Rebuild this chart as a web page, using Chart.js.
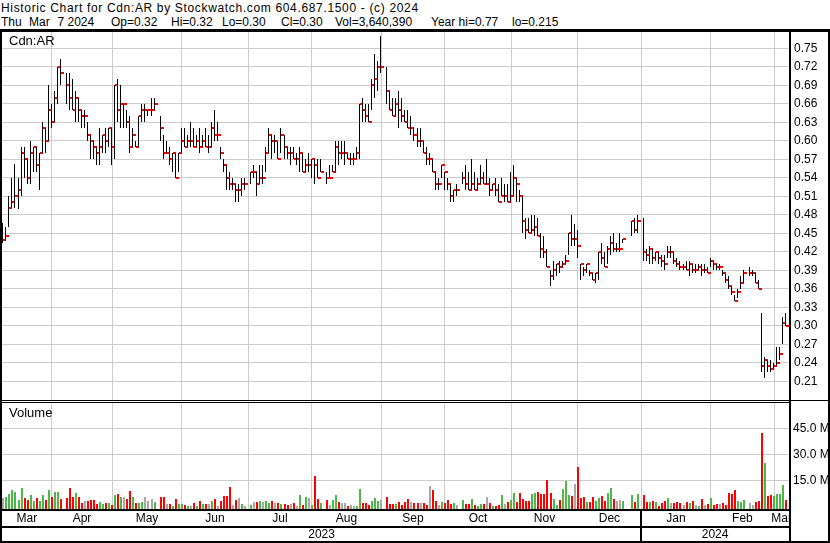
<!DOCTYPE html>
<html>
<head>
<meta charset="utf-8">
<script src="https://cdn.jsdelivr.net/npm/chart.js@4.4.1/dist/chart.umd.min.js"></script>
<style>
  html, body { margin: 0; padding: 0; background: #fff; }
  body { width: 830px; height: 543px; position: relative; overflow: hidden;
         font-family: "Liberation Sans", Arial, sans-serif; font-size: 12px; color: #000; }
  .t { position: absolute; white-space: pre; line-height: 14px; }
  .big { font-size: 13px; }
  .ln { position: absolute; background: #000; }
  canvas { position: absolute; }
</style>
</head>
<body>
<div class="t" style="left:1px;top:1px;letter-spacing:0.66px">Historic Chart for Cdn:AR by Stockwatch.com 604.687.1500 - (c) 2024</div>
<div class="t" style="left:1px;top:15px">Thu</div>
<div class="t" style="left:29px;top:15px">Mar</div>
<div class="t" style="left:57.5px;top:15px">7</div>
<div class="t" style="left:67.5px;top:15px">2024</div>
<div class="t" style="left:111px;top:15px">Op=0.32</div>
<div class="t" style="left:171px;top:15px">Hi=0.32</div>
<div class="t" style="left:222px;top:15px">Lo=0.30</div>
<div class="t" style="left:281px;top:15px">Cl=0.30</div>
<div class="t" style="left:335px;top:15px">Vol=3,640,390</div>
<div class="t" style="left:431px;top:15px">Year hi=0.77</div>
<div class="t" style="left:512px;top:15px">lo=0.215</div>

<canvas id="price" width="826" height="368" style="left:2px;top:32px"></canvas>
<canvas id="volume" width="826" height="138" style="left:2px;top:403px"></canvas>

<div class="t big" style="left:9px;top:34px">Cdn:AR</div>
<div class="t big" style="left:9px;top:406px">Volume</div>

<div style="position:absolute;left:791px;top:509px;width:37px;height:32px;background:#fff"></div>
<div class="ln" style="left:0;top:29px;width:830px;height:3px"></div>
<div class="ln" style="left:0;top:29px;width:2px;height:514px"></div>
<div class="ln" style="left:828px;top:29px;width:2px;height:514px"></div>
<div class="ln" style="left:0;top:541px;width:830px;height:2px"></div>
<div class="ln" style="left:789px;top:29px;width:2px;height:514px"></div>
<div class="ln" style="left:0;top:400px;width:830px;height:1px"></div>
<div class="ln" style="left:0;top:402px;width:791px;height:1px"></div>
<div class="ln" style="left:0;top:509px;width:791px;height:2px"></div>
<div class="ln" style="left:0;top:526px;width:791px;height:2px"></div>

<script>
// one slot per weekday, Mar 10 2023 .. Mar 7 2024 (null = market holiday)
const monthLabels = ['Mar', 'Apr', 'May', 'Jun', 'Jul', 'Aug', 'Sep', 'Oct', 'Nov', 'Dec', 'Jan', 'Feb', 'Mar'];
const monthSlots = [16, 20, 23, 22, 21, 23, 21, 22, 22, 21, 23, 21, 5];
const yearLabels = ['2023', '2024'];
const priceTicks = [0.21, 0.24, 0.27, 0.30, 0.33, 0.36, 0.39, 0.42, 0.45, 0.48, 0.51, 0.54, 0.57, 0.60, 0.63, 0.66, 0.69, 0.72, 0.75];
const volumeTicks = [15, 30, 45];

const highs = [
  .467, .460, .510, .540, .562, .540, .590, .590, .570, .600, .590, .590, .580, .630, .620, .690,
  .66, .68, .72, .732, null, .71, .71, .70, .68, .67, .65, .65, .63, .61, .60, .59, .62, .61, .62, .62,
  .62, .69, .70, .69, .66, .65, .64, .62, .60, .64, .66, .66, .65, .67, .67, null, .64, .61, .60, .59, .58, .58, .58,
  .62, .62, .61, .63, .62, .61, .62, .61, .62, .61, .63, .65, .63, .59, .57, .56, .55, .54, .53, .53, .54, .54,
  null, .55, .56, .55, .56, .56, .59, .62, .61, .61, .60, .62, .61, .59, .59, .59, .58, .59, .58, .57, .58,
  .57, .57, .57, .57, null, .55, .56, .56, .60, .60, .60, .60, .58, .58, .58, .59, .66, .67, .66, .66, .70, .74, .73,
  .77, null, .72, .68, .67, .67, .68, .67, .65, .65, .64, .62, .62, .62, .60, .59, .58, .57, .55, .54, .56,
  .55, .54, .53, .52, .53, null, .55, .56, .55, .57, .55, .54, .56, .55, .57, .54, .53, .54, .53, .54, .53, .53,
  .55, .56, .54, .52, .51, .475, .474, .48, .48, .474, .45, .445, .425, .39, .405, .40, .405, .405, .415, .45, .48, .465,
  .455, .40, .395, .40, .39, .385, .385, .42, .435, .42, .43, .445, .45, .435, .45, .44, null, null, .47, .474, .48,
  null, .475, .425, .43, .425, .42, .42, .415, .415, .43, .43, .42, .41, .405, .40, .405, .405, .40, .40, .40, .40, .40, .395,
  .41, .405, .40, .40, .39, .385, .38, .365, .35, .36, .38, .39, null, .395, .39, .385, .375, .32, .25, .245, .245,
  .24, .265, .265, .315, .32
];
const lows = [
  .435, .438, .460, .491, .491, .490, .510, .540, .530, .530, .550, .550, .520, .580, .580, .600,
  .62, .63, .66, .69, null, .66, .65, .65, .63, .63, .62, .62, .60, .57, .57, .56, .56, .58, .58, .59,
  .56, .57, .63, .62, .62, .62, .58, .59, .59, .59, .63, .63, .64, .64, .65, null, .60, .57, .58, .56, .55, .54, .55,
  .58, .59, .59, .59, .59, .59, .58, .59, .59, .58, .59, .60, .60, .57, .55, .52, .52, .52, .50, .50, .51, .52,
  null, .53, .54, .51, .53, .53, .55, .58, .57, .58, .57, .58, .57, .57, .56, .57, .56, .55, .55, .55, .55,
  .54, .53, .54, .55, null, .53, .54, .55, .55, .56, .57, .56, .57, .56, .56, .57, .57, .63, .63, .63, .65, .67, .68,
  .71, null, .66, .65, .64, .64, .62, .63, .63, .62, .61, .60, .59, .59, .58, .56, .56, .55, .52, .52, .54,
  .52, .52, .50, .50, .51, null, .53, .52, .52, .52, .52, .52, .53, .53, .53, .51, .52, .51, .50, .51, .50, .50,
  .50, .51, .50, .50, .45, .44, .45, .45, .445, .445, .41, .41, .395, .365, .375, .38, .385, .395, .40, .415, .43, .43,
  .41, .375, .38, .385, .38, .375, .37, .375, .40, .395, .40, .415, .42, .42, .42, .435, null, null, .445, .45, .45,
  null, .405, .405, .40, .40, .405, .40, .395, .39, .41, .41, .40, .395, .39, .39, .39, .38, .385, .385, .39, .38, .385, .385,
  .395, .39, .39, .39, .38, .37, .36, .35, .34, .345, .36, .37, null, .38, .38, .37, .36, .225, .215, .225, .225,
  .23, .235, .245, .27, .30
];
const closes = [
  .439, .445, .491, .500, .510, .520, .580, .570, .540, .580, .590, .560, .580, .620, .600, .650,
  .63, .67, .72, .71, null, .69, .67, .65, .67, .65, .64, .64, .61, .60, .59, .58, .59, .61, .60, .62,
  .59, .69, .65, .66, .66, .63, .59, .61, .59, .64, .65, .65, .65, .65, .66, null, .62, .58, .58, .57, .58, .54, .58,
  .60, .59, .60, .60, .59, .60, .59, .60, .59, .59, .62, .61, .61, .58, .56, .54, .53, .53, .52, .52, .53, .53,
  null, .55, .55, .53, .54, .54, .58, .61, .60, .60, .57, .61, .59, .58, .58, .57, .57, .58, .55, .56, .56,
  .57, .56, .54, .55, null, .54, .54, .55, .59, .58, .58, .58, .57, .57, .57, .58, .66, .65, .64, .63, .69, .70, .72,
  .72, null, .68, .65, .64, .66, .65, .64, .63, .62, .62, .61, .60, .60, .58, .57, .57, .55, .53, .53, .56,
  .55, .53, .51, .52, .52, null, .54, .53, .52, .53, .52, .53, .54, .53, .53, .52, .53, .52, .50, .51, .51, .50,
  .51, .54, .53, .51, .47, .455, .45, .455, .46, .445, .425, .42, .395, .38, .39, .40, .395, .40, .405, .45, .44, .44,
  .43, .40, .39, .40, .385, .375, .385, .42, .41, .395, .425, .435, .425, .425, .425, .44, null, null, .47, .455, .47,
  null, .42, .415, .425, .41, .42, .41, .405, .40, .42, .42, .405, .40, .395, .395, .39, .40, .39, .39, .395, .39, .39, .385,
  .405, .40, .395, .395, .385, .375, .365, .355, .34, .355, .37, .385, null, .385, .385, .37, .36, .235, .245, .235, .23,
  .235, .24, .255, .305, .30
];
// volume in millions of shares
const volumes = [
  5.0, 5.6, 7.2, 9.4, 8.4, 3.7, 10.4, 5.0, 3.7, 6.5, 3.1, 4.6, 3.1, 6.5, 3.7, 9.4,
  5.6, 8.0, 8.0, 4.3, null, 5.0, 10.4, 5.4, 7.5, 5.6, 1.9, 3.1, 3.1, 3.5, 3.7, 1.3, 2.3, 1.3, 1.7, 1.7,
  0.8, 6.5, 6.9, 5.4, 5.4, 4.1, 8.8, 5.4, 1.9, 1.7, 2.3, 5.4, 3.1, 4.1, 2.7, null, 5.4, 5.4, 1.3, 1.3, 0.1, 4.3, 1.3,
  1.3, 0.8, 0.1, 0.1, 1.9, 0.4, 3.1, 1.1, 1.1, 1.3, 3.1, 4.3, 0.1, 3.1, 6.0, 6.1, 11.2, 0.8, 3.7, 4.8, 1.3, 0.4,
  null, 0.8, 2.3, 2.7, 3.1, 2.3, 3.1, 1.9, 3.1, 1.7, 1.9, 1.3, 1.3, 0.8, 1.3, 1.7, 0.1, 6.5, 0.8, 5.4, 5.0,
  1.0, 17.2, 4.3, 1.9, null, 3.7, 0.8, 3.7, 6.5, 2.3, 1.9, 1.9, 0.3, 0.8, 0.3, 0.3, 9.9, 1.9, 1.9, 0.8, 3.1, 4.6, 3.1,
  3.7, null, 5.4, 1.3, 1.3, 1.3, 2.5, 0.8, 2.5, 4.3, 2.5, 1.7, 1.7, 1.9, 1.7, 0.8, 11.7, 9.4, 3.1, 0.8, 2.5,
  1.9, 3.4, 1.3, 1.9, 1.0, null, 3.4, 1.3, 1.3, 4.3, 0.8, 0.2, 1.3, 1.3, 5.4, 1.9, 0.1, 0.2, 0.8, 6.5, 1.3, 2.5,
  3.7, 7.7, 2.3, 7.7, 4.3, 3.1, 3.1, 7.2, 7.7, 8.3, 7.2, 7.2, 15.2, 7.7, 4.3, 0.8, 3.7, 10.0, 14.6, 6.5, 5.9, 12.9,
  22.9, 4.8, 5.4, 2.5, 2.5, 5.4, 3.1, 4.8, 5.9, 3.1, 7.7, 10.6, 4.3, 3.1, 3.7, 3.0, null, null, 6.5, 2.5, 7.2,
  null, 6.5, 2.5, 2.5, 3.1, 2.5, 0.2, 1.9, 3.1, 4.8, 1.9, 1.9, 2.5, 1.9, 0.8, 2.5, 1.9, 3.1, 0.8, 0.2, 4.3, 0.8, 1.3,
  4.6, 0.8, 1.3, 1.3, 1.9, 0.8, 7.7, 7.2, 9.4, 3.1, 2.5, 3.7, null, 1.9, 0.8, 2.3, 3.1, 42.3, 25.2, 5.9, 6.5,
  5.9, 7.2, 7.2, 12.3, 3.64
];

const FONT = { family: "'Liberation Sans', Arial, sans-serif", size: 12 };
const GRID = '#cccccc';
const UP = '#4cb848', DOWN = '#ff0000', FLAT = '#a8a8a8';
const TICK = 0.0016;                   // half height of the close tick
const P_MIN = 0.1797, P_MAX = 0.7764;
const V_MIN = -1.56, V_MAX = 59.6;

const monthStart = [];
let n = 0;
monthSlots.forEach(c => { monthStart.push(n); n += c; });
const X_MIN = -0.46, X_MAX = n - 0.1;
const janIdx = monthLabels.indexOf('Jan');
const monthMid = monthStart.map((s, i) => {
  const a = i === 0 ? X_MIN : s;
  const b = i === monthStart.length - 1 ? X_MAX : monthStart[i + 1];
  return (a + b) / 2;
});
const yearMid = [(X_MIN + monthStart[janIdx]) / 2, (monthStart[janIdx] + X_MAX) / 2];

const hlPoints = [], closePoints = [], volPoints = [], volColors = [];
let prev = null;
for (let i = 0; i < highs.length; i++) {
  if (highs[i] === null) continue;
  hlPoints.push({ x: i, y: [lows[i], highs[i]] });
  closePoints.push({ x: i, y: [closes[i] - TICK, closes[i] + TICK] });
  volPoints.push({ x: i, y: volumes[i] });
  volColors.push(prev === null || closes[i] === prev ? FLAT : (closes[i] > prev ? UP : DOWN));
  prev = closes[i];
}

// snap bars to whole pixels so the thin bars stay crisp
const snapBars = {
  id: 'snapBars',
  afterDatasetsUpdate(chart) {
    chart.data.datasets.forEach((ds, di) => {
      const w = ds.barThickness;
      chart.getDatasetMeta(di).data.forEach(el => {
        el.x = Math.round(el.x - w / 2) + w / 2;
        const top = Math.round(Math.min(el.y, el.base));
        let bottom = Math.round(Math.max(el.y, el.base));
        if (ds.tickHeight) bottom = top + ds.tickHeight;
        if (bottom <= top) bottom = top + 1;
        el.y = top;
        el.base = bottom;
      });
    });
  }
};

const gridX = {
  type: 'linear', min: X_MIN, max: X_MAX, offset: false, weight: 0,
  grid: { color: GRID, offset: false, drawTicks: false },
  border: { display: false },
  ticks: { display: false },
  afterBuildTicks: a => { a.ticks = monthStart.slice(1).map(v => ({ value: v })); }
};

const priceChart = new Chart(document.getElementById('price'), {
  type: 'bar',
  data: {
    datasets: [
      { label: 'High-Low', data: hlPoints, backgroundColor: '#000', barThickness: 1, inflateAmount: 0, borderWidth: 0 },
      { label: 'Close', data: closePoints, backgroundColor: DOWN, barThickness: 3, tickHeight: 2, inflateAmount: 0, borderWidth: 0 }
    ]
  },
  options: {
    responsive: false, animation: false,
    layout: { padding: 0 },
    plugins: { legend: { display: false }, tooltip: { enabled: false } },
    scales: {
      x: gridX,
      y: {
        position: 'right', min: P_MIN, max: P_MAX,
        grid: { color: GRID, drawTicks: false }, border: { display: false },
        ticks: { font: FONT, color: '#000', padding: 5, callback: v => v.toFixed(2) },
        afterBuildTicks: a => { a.ticks = priceTicks.map(v => ({ value: v })); },
        afterFit: a => { a.width = 39; a.paddingTop = 0; a.paddingBottom = 0; }
      }
    }
  },
  plugins: [snapBars]
});

const yearDivider = {
  id: 'yearDivider',
  afterDraw(chart) {
    const px = Math.round(chart.scales.x.getPixelForValue(monthStart[janIdx]));
    const c = chart.ctx;
    c.save();
    c.fillStyle = '#000';
    c.fillRect(px - 1, chart.chartArea.bottom, 2, chart.height - chart.chartArea.bottom);
    c.restore();
  }
};

const volumeChart = new Chart(document.getElementById('volume'), {
  type: 'bar',
  data: {
    datasets: [
      { label: 'Volume', data: volPoints, backgroundColor: volColors, barThickness: 2, inflateAmount: 0,
        borderWidth: 0, base: V_MIN, xAxisID: 'x', yAxisID: 'y' }
    ]
  },
  options: {
    responsive: false, animation: false,
    layout: { padding: 0 },
    plugins: { legend: { display: false }, tooltip: { enabled: false } },
    scales: {
      x: gridX,
      xm: {
        type: 'linear', position: 'bottom', min: X_MIN, max: X_MAX, offset: false, weight: 1,
        grid: { display: false, drawTicks: false, offset: false }, border: { display: false },
        ticks: { font: FONT, color: '#000', padding: 2, autoSkip: false, maxRotation: 0,
                 callback: (v, i) => monthLabels[i] },
        afterBuildTicks: a => { a.ticks = monthMid.map(v => ({ value: v })); },
        afterFit: a => { a.height = 18; a.paddingLeft = 0; a.paddingRight = 0; }
      },
      xy: {
        type: 'linear', position: 'bottom', min: X_MIN, max: X_MAX, offset: false, weight: 2,
        grid: { display: false, drawTicks: false, offset: false }, border: { display: false },
        ticks: { font: FONT, color: '#000', padding: 0, autoSkip: false, maxRotation: 0,
                 callback: (v, i) => yearLabels[i] },
        afterBuildTicks: a => { a.ticks = yearMid.map(v => ({ value: v })); },
        afterFit: a => { a.height = 14; a.paddingLeft = 0; a.paddingRight = 0; }
      },
      y: {
        position: 'right', min: V_MIN, max: V_MAX,
        grid: { color: GRID, drawTicks: false }, border: { display: false },
        ticks: { font: FONT, color: '#000', padding: 4, callback: v => v.toFixed(1) + ' M' },
        afterBuildTicks: a => { a.ticks = volumeTicks.map(v => ({ value: v })); },
        afterFit: a => { a.width = 39; a.paddingTop = 0; a.paddingBottom = 0; }
      }
    }
  },
  plugins: [snapBars, yearDivider]
});
</script>
</body>
</html>
